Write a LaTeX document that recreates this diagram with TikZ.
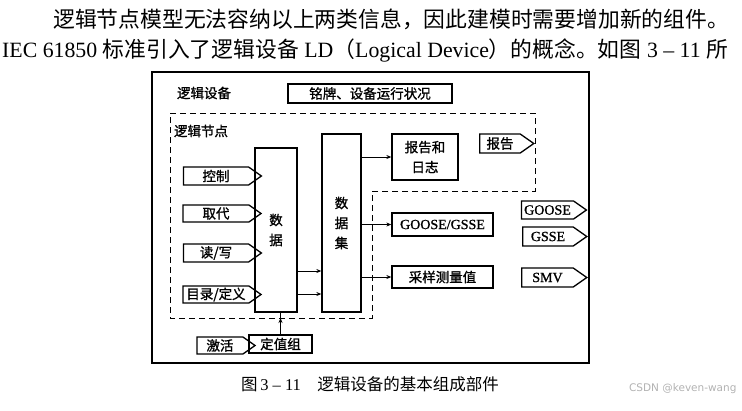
\documentclass[tikz,border=0pt]{standalone}
\usepackage{fontspec}
\setmainfont{Liberation Serif}
\newfontfamily\cjk{Noto Sans CJK SC}
\newfontfamily\cjkb[FakeBold=1.2]{Noto Sans CJK SC}
\newfontfamily\latb[FakeBold=1.2]{Liberation Serif}
\usetikzlibrary{positioning,arrows.meta,shapes.symbols}

\begin{document}
\begin{tikzpicture}[
    x=1pt, y=-1pt,
    >={Stealth[length=5pt,width=4pt]},
    every node/.style={font=\cjkb\fontsize{13.5}{20}\selectfont},
    box/.style={
      rectangle, draw, line width=1.3pt,
      inner sep=0pt, align=center
    },
    tag/.style={
      signal, signal to=east, signal pointer angle=70,
      draw, line width=1.3pt, inner sep=0pt
    },
    latin/.style={font=\latb\fontsize{14}{16}\selectfont},
    conn/.style={line width=1pt, ->},
  ]
  \useasboundingbox (0,0) rectangle (742,410);

  % Text around the figure
  \node[anchor=west, inner sep=0pt, font=\cjk\fontsize{21.8}{26}\selectfont] (line1) at (53,19)
    {逻辑节点模型无法容纳以上两类信息，因此建模时需要增加新的组件。};
  \node[anchor=west, inner sep=0pt, font=\fontsize{21.8}{26}\selectfont] (line2) at (2,51)
    {IEC 61850 {\cjk 标准引入了逻辑设备} LD{\cjk （}Logical Device{\cjk ）的概念。如图} 3 -- 11 {\cjk 所}};

  % Logical device frame
  \draw[line width=1.4pt] (152,72) rectangle (589,363);
  \node (ldtitle) at (204,93) {逻辑设备};
  \node[box, line width=1.8pt, minimum width=164pt, minimum height=19pt] (plate) at (370,93.5)
    {铭牌、设备运行状况};

  % Logical node (dashed)
  \draw[line width=1pt, dash pattern=on 6pt off 4pt]
    (170,113) -- (535,113) -- (535,191) -- (372,191) -- (372,318) -- (170,318) -- cycle;
  \node (lntitle) at (201,131) {逻辑节点};

  % Data and data set
  \node[box, minimum width=42pt, minimum height=164pt] (data) at (276,230) {数\\据};
  \node[box, minimum width=39pt, minimum height=178pt] (dset) at (341.5,223) {数\\据\\集};

  % Services
  \node[box, minimum width=66pt, minimum height=46pt] (rlog) at (425,157) {报告和\\日志};
  \node[box, latin, minimum width=101pt, minimum height=23pt] (gse) at (442.5,224.5) {GOOSE/GSSE};
  \node[box, minimum width=101pt, minimum height=22pt] (smv) at (442.5,277) {采样测量值};

  % Output tags
  \node[tag, minimum width=54pt, minimum height=19pt] (report) at (500,143.5) {报告};
  \node[tag, latin, minimum width=65pt, minimum height=18pt] (goose) at (547.5,210) {GOOSE};
  \node[tag, latin, minimum width=64pt, minimum height=19pt] (gsse) at (548,236.5) {GSSE};
  \node[tag, latin, minimum width=65pt, minimum height=19pt] (smvtag) at (547.5,277.5) {SMV};

  % Input tags
  \node[tag, minimum width=78pt, minimum height=18pt] (ctrl) at (216,176) {控制};
  \node[tag, minimum width=78pt, minimum height=17pt] (subst) at (216,213.5) {取代};
  \node[tag, minimum width=78pt, minimum height=18pt] (rw) at (216,253) {读/写};
  \node[tag, minimum width=78pt, minimum height=17pt] (dir) at (216,294.5) {目录/定义};

  % Setting group
  \node[box, minimum width=63pt, minimum height=18pt] (sg) at (280.5,344) {定值组};
  \node[tag, minimum width=58pt, minimum height=17pt] (act) at (220,345.5) {激活};
  \coordinate (lnbottom) at (170,318);

  % Connections
  \draw[conn] (dset.east |- rlog.west) -- (rlog.west);
  \draw[conn] (dset.east |- gse.west) -- (gse.west);
  \draw[conn] (dset.east |- smv.west) -- (smv.west);
  \draw[conn] ([yshift=-41pt]data.east) -- ([yshift=-41pt]data.east -| dset.west);
  \draw[conn] ([yshift=-64pt]data.east) -- ([yshift=-64pt]data.east -| dset.west);
  \draw[conn] (sg.north) -- (sg.north |- lnbottom);
  \draw[line width=1pt] (sg.north |- lnbottom) -- (sg.north |- data.south);

  % Caption
  \node[font=\cjk\fontsize{16.5}{20}\selectfont] (caption) at (370,384)
    {图\,{\rmfamily 3 -- 11}\quad 逻辑设备的基本组成部件};
  \node[anchor=east, text=gray!60, font=\fontspec{DejaVu Sans}\fontsize{10.5}{12}\selectfont]
    (mark) at (740,389) {CSDN @keven-wang};
\end{tikzpicture}
\end{document}
